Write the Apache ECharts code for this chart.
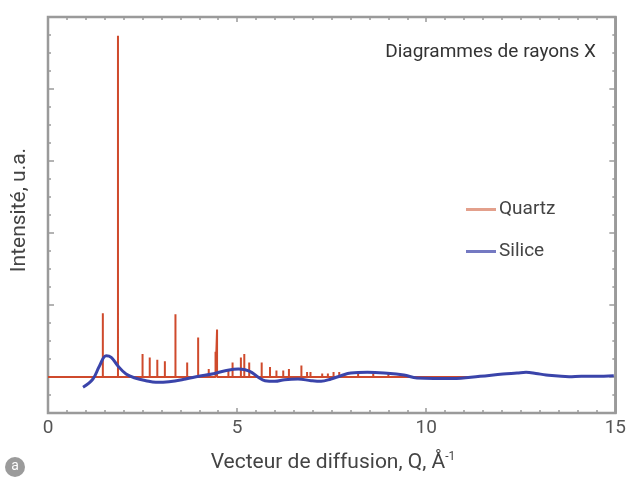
<!DOCTYPE html>
<html><head><meta charset="utf-8">
<script src="https://cdn.jsdelivr.net/npm/echarts@6/dist/echarts.min.js"></script>
<style>html,body{margin:0;padding:0;background:#fff}#c{width:629px;height:481px}</style>
</head><body><div id="c"></div>
<script>
// Quartz diffraction peaks: positions (Q) and heights (a.u.)
const quartzQ = [1.45, 1.85, 2.50, 2.69, 2.89, 3.09, 3.37, 3.68, 3.97, 4.25, 4.43, 4.47, 4.77, 4.88, 5.10, 5.19, 5.32, 5.65, 5.87, 6.04, 6.22, 6.37, 6.70, 6.85, 6.94, 7.25, 7.40, 7.55, 7.70, 8.2, 8.6, 9.0];
const quartzH = [0.886, 4.74, 0.32, 0.27, 0.24, 0.22, 0.87, 0.20, 0.55, 0.11, 0.35, 0.66, 0.11, 0.20, 0.27, 0.32, 0.20, 0.20, 0.14, 0.09, 0.09, 0.11, 0.16, 0.07, 0.07, 0.05, 0.05, 0.07, 0.07, 0.04, 0.05, 0.04];
const quartzRange = [0, 11.4];
// Silice (amorphous) curve
const siliceQ = [0.926, 1.188, 1.364, 1.539, 1.671, 1.844, 2.064, 2.326, 2.589, 2.851, 3.20, 3.638, 3.99, 4.335, 4.687, 5.035, 5.21, 5.384, 5.56, 5.736, 5.998, 6.26, 6.609, 6.958, 7.22, 7.483, 7.745, 8.007, 8.445, 8.883, 9.407, 9.756, 10.2, 10.7, 11.42, 12.03, 12.4, 12.64, 12.9, 13.17, 13.78, 14.1, 14.48, 14.96];
const siliceV = [-0.143, -0.028, 0.157, 0.295, 0.273, 0.157, 0.042, -0.018, -0.051, -0.073, -0.065, -0.028, 0.01, 0.042, 0.087, 0.111, 0.10, 0.065, -0.004, -0.051, -0.06, -0.037, -0.028, -0.051, -0.06, -0.028, 0.018, 0.055, 0.065, 0.055, 0.028, -0.014, -0.02, -0.02, 0.01, 0.042, 0.055, 0.065, 0.05, 0.028, 0.004, 0.012, 0.01, 0.018];
const xTicks = [0, 5, 10, 15];
const yMajor = [0, 1, 2, 3, 4, 5];

const quartzData = [[quartzRange[0], 0]];
quartzQ.forEach((q, i) => { quartzData.push([q, 0], [q, quartzH[i]], [q, 0]); });
quartzData.push([quartzRange[1], 0]);
const siliceData = siliceQ.map((q, i) => [q, siliceV[i]]);

const axisCol = '#9a9a9a';
const fontFam = 'Roboto, "Noto Sans", sans-serif';
function xAx(pos, labels) {
  return {
    type: 'value', position: pos, min: 0, max: 15, interval: 5,
    axisLine: { show: true, onZero: false, lineStyle: { color: axisCol, width: 2 } },
    axisTick: { show: true, inside: true, length: 5, lineStyle: { color: axisCol, width: 1.5 } },
    minorTick: { show: true, splitNumber: 10, length: 3, lineStyle: { color: axisCol, width: 1.5 } },
    splitLine: { show: false },
    axisLabel: { show: labels, color: '#555', fontSize: 19, fontFamily: fontFam, margin: 6 }
  };
}
function yAx(pos, major) {
  const a = {
    type: 'value', position: pos, min: -0.5, max: 5, interval: 0.25,
    axisLine: { show: !major, onZero: false, lineStyle: { color: axisCol, width: 2 } },
    axisTick: { show: true, inside: true, length: major ? 6 : 3, lineStyle: { color: axisCol, width: 1.5 } },
    splitLine: { show: false },
    axisLabel: { show: false }
  };
  if (major) a.axisTick.customValues = yMajor;
  return a;
}

const chart = echarts.init(document.getElementById('c'), null, { renderer: 'canvas' });
chart.setOption({
  animation: false,
  grid: { left: 48, right: 11, top: 17, bottom: 68, show: true, borderColor: '#999999', borderWidth: 2.5, backgroundColor: 'transparent' },
  xAxis: [xAx('bottom', true), xAx('top', false)],
  yAxis: [yAx('left', false), yAx('left', true), yAx('right', false), yAx('right', true)],
  legend: [
    { data: [{ name: 'Quartz', itemStyle: { color: '#e3a08c' } }], left: 461, top: 195, orient: 'vertical', icon: 'rect', itemWidth: 30, itemHeight: 3, itemGap: 4,
      textStyle: { color: '#444', fontSize: 19, fontFamily: fontFam, padding: [0, 0, 0, -2] } },
    { data: [{ name: 'Silice', itemStyle: { color: '#7479c2' } }], left: 461, top: 237, orient: 'vertical', icon: 'rect', itemWidth: 30, itemHeight: 3, itemGap: 4,
      textStyle: { color: '#444', fontSize: 19, fontFamily: fontFam, padding: [0, 0, 0, -2] } }
  ],
  series: [
    { name: 'Quartz', type: 'line', data: quartzData, showSymbol: false, symbol: 'none',
      lineStyle: { color: '#cf4a2c', width: 2 }, itemStyle: { color: '#cf4a2c' }, z: 2 },
    { name: 'Silice', type: 'line', data: siliceData, showSymbol: false, symbol: 'none', smooth: 0.4,
      lineStyle: { color: '#3a44aa', width: 3 }, itemStyle: { color: '#3a44aa' }, z: 3 }
  ],
  graphic: [
    { type: 'text', x: 596, y: 52, style: { text: 'Diagrammes de rayons X', fill: '#333', font: '19px ' + fontFam, textAlign: 'right', textVerticalAlign: 'middle' } },
    { type: 'text', x: 333, y: 463, style: { text: '{m|Vecteur de diffusion, Q, Å}{s|-1}', textAlign: 'center', textVerticalAlign: 'middle',
        rich: { m: { fontSize: 21, fill: '#444', fontFamily: fontFam }, s: { fontSize: 12, fill: '#444', fontFamily: fontFam, verticalAlign: 'top', padding: [0, 0, 12, 0] } } } },
    { type: 'text', x: 20, y: 210, rotation: Math.PI / 2, style: { text: 'Intensité, u.a.', fill: '#444', font: '21px ' + fontFam, textAlign: 'center', textVerticalAlign: 'middle' } },
    { type: 'circle', shape: { cx: 15, cy: 467, r: 10 }, style: { fill: '#9b9b9b' } },
    { type: 'text', x: 15, y: 466, style: { text: 'a', fill: '#fff', font: '14px ' + fontFam, textAlign: 'center', textVerticalAlign: 'middle' } }
  ]
});
</script>
</body></html>
